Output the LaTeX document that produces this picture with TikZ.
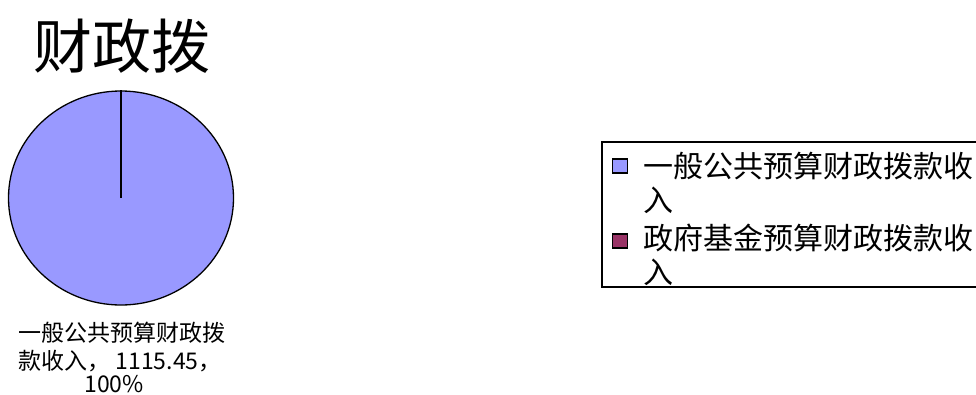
\documentclass[tikz,border=0pt]{standalone}
\usepackage{fontspec}
\setmainfont{Noto Sans CJK SC}
\usetikzlibrary{shapes.geometric}
\definecolor{pieblue}{HTML}{9999FF}
\definecolor{piered}{HTML}{993366}
\tikzset{
  txt/.style={inner sep=0pt, anchor=base west},
  legsq/.style={draw=black, line width=1.2pt, minimum width=15pt, minimum height=14pt, inner sep=0pt},
  pielab/.style={inner sep=0pt, anchor=base, font=\fontsize{23}{28}\selectfont},
  legtxt/.style={txt, font=\fontsize{30}{34}\selectfont},
}
\begin{document}
\begin{tikzpicture}[x=1pt,y=-1pt]
\useasboundingbox (0,0) rectangle (976,394);
\node[inner sep=0pt, anchor=base, font=\fontsize{59}{59}\selectfont] (title) at (122,68) {财政拨};
\node[ellipse, draw=black, line width=1.3pt, fill=pieblue, minimum width=225pt, minimum height=214pt, inner sep=0pt] (pie) at (121,198) {};
\draw[line width=1.3pt] (pie.north) -- (pie.center);
\node[pielab] (lab1) at (122,341) {一般公共预算财政拨};
\node[pielab] (lab2) at (120,369) {款收入， 1115.45，};
\node[pielab] (lab3) at (114,392) {100\%};
\draw[line width=1.5pt] (976,142) -- (602,142) -- (602,287) -- (976,287);
\node[legsq, fill=pieblue] (sq1) at (620,166) {};
\node[legsq, fill=piered] (sq2) at (620,241) {};
\node[legtxt] (l1a) at (643,177) {一般公共预算财政拨款收};
\node[legtxt] (l1b) at (643,211) {入};
\node[legtxt] (l2a) at (643,249) {政府基金预算财政拨款收};
\node[legtxt] (l2b) at (643,283) {入};
\end{tikzpicture}
\end{document}
